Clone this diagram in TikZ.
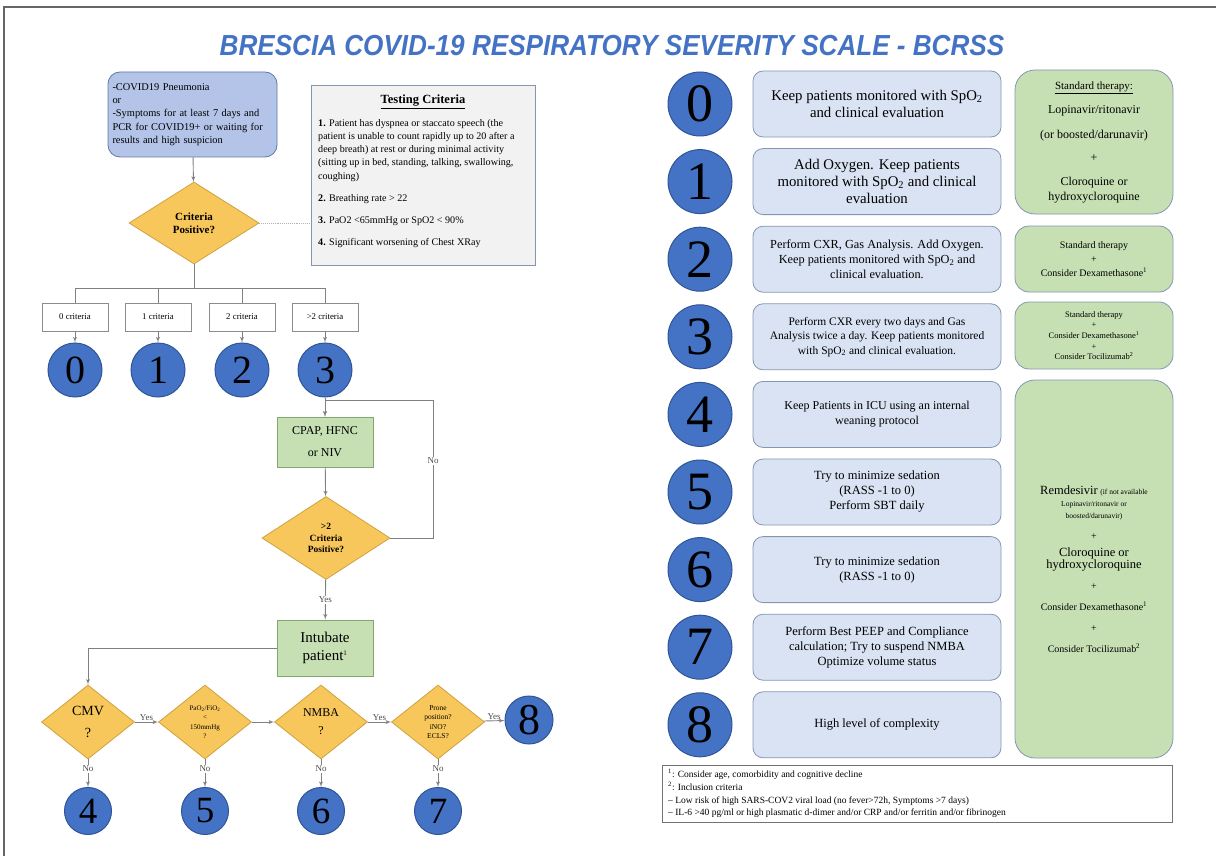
\documentclass[tikz,border=0pt]{standalone}
\usepackage{fontspec}
\setmainfont{Liberation Serif}
\newfontfamily\titlefont[FakeStretch=0.9]{Liberation Sans}
\usepackage{tikz}
\usetikzlibrary{shapes.geometric}
\usetikzlibrary{arrows}

\definecolor{lvlblue}{HTML}{4472C4}
\definecolor{lvledge}{HTML}{2F5597}
\definecolor{startfill}{HTML}{B4C4E8}
\definecolor{startedge}{HTML}{5F78AA}
\definecolor{gold}{HTML}{F8C75C}
\definecolor{goldedge}{HTML}{CFA23E}
\definecolor{stepfill}{HTML}{C6E0B4}
\definecolor{stepedge}{HTML}{82A872}
\definecolor{descfill}{HTML}{DAE3F3}
\definecolor{descedge}{HTML}{8497B0}
\definecolor{testfill}{HTML}{F2F2F2}
\definecolor{linegray}{HTML}{808080}
\definecolor{titleblue}{HTML}{4472C4}

\newcommand{\fs}[2]{\fontsize{#1}{#2}\selectfont}

\begin{document}
\begin{tikzpicture}[x=1pt,y=-1pt]
\tikzset{line/.style = {draw=linegray, line width=0.9pt}}
\tikzset{edge/.style = {line, ->, > = latex'}}
\tikzset{lbl/.style = {font=\fs{9}{10}, text=black!70, inner sep=1pt}}
\tikzset{lvl/.style = {shape=circle, draw=lvledge, fill=lvlblue, line width=1pt, inner sep=0pt}}
\tikzset{lvltop/.style = {lvl, minimum size=54pt, font=\fs{40}{40}}}
\tikzset{lvlbot/.style = {lvl, minimum size=47pt, font=\fs{37}{37}}}
\tikzset{lvlbig/.style = {lvl, minimum size=64pt, font=\fs{54}{54}}}
\tikzset{decision/.style = {shape=diamond, draw=goldedge, fill=gold, line width=0.8pt, aspect=1.6, inner sep=0pt, align=center}}
\tikzset{critbox/.style = {draw=black!45, fill=white, minimum width=66pt, minimum height=28pt, inner sep=0pt, font=\fs{8.8}{10}}}
\tikzset{stepbox/.style = {draw=stepedge, fill=stepfill, line width=0.8pt, minimum width=96pt, align=center}}
\tikzset{descbox/.style = {draw=descedge, fill=descfill, line width=0.8pt, rounded corners=10pt, minimum width=248pt, minimum height=66pt, align=center}}
\tikzset{therapy/.style = {draw=descedge, fill=stepfill, line width=0.8pt, rounded corners=20pt, minimum width=158pt, align=center}}
\useasboundingbox (0,0) rectangle (1216,856);
\draw[black!60, line width=1.2pt] (4,856) -- (4,7) -- (1216,7);
\node[font=\titlefont\bfseries\itshape\fs{29}{32}, text=titleblue] (title) at (612,46) {BRESCIA COVID-19 RESPIRATORY SEVERITY SCALE - BCRSS};

% left: triage flow
\node[draw=startedge, fill=startfill, line width=0.8pt, rounded corners=12pt, minimum width=169pt, minimum height=85pt, text width=160pt, align=left, font=\fs{10.4}{13.3}] (start) at (192.5,114.5) {-COVID19 Pneumonia\\or\\-Symptoms for at least 7 days and\\PCR for COVID19+ or waiting for\\results and high suspicion};
\node[draw=descedge, fill=testfill, line width=0.8pt, minimum width=224pt, minimum height=180pt] (tc) at (423,175) {};
\node[font=\bfseries\fs{12.5}{14}] (tctitle) at (423,102) {\underline{Testing Criteria}};
\node[anchor=north west, align=left, inner sep=0pt, font=\fs{10.1}{13.2}] (tcitems) at (318,119) {\textbf{1.} Patient has dyspnea or staccato speech (the\\patient is unable to count rapidly up to 20 after a\\deep breath) at rest or during minimal activity\\(sitting up in bed, standing, talking, swallowing,\\coughing)\\[9pt]\textbf{2.} Breathing rate > 22\\[9pt]\textbf{3.} PaO2 <65mmHg or SpO2 < 90\%\\[9pt]\textbf{4.} Significant worsening of Chest XRay};
\node[decision, minimum width=130pt, minimum height=82pt, font=\bfseries\fs{11}{13}] (crit1) at (194,223) {Criteria\\Positive?};
\draw[edge] (start) -- (crit1);
\draw[line, densely dotted, draw=black!30] (crit1.east) -- (crit1.east -| tc.west);

\node[critbox] (c0) at (75,317) {0 criteria};
\node[critbox] (c1) at (158,317) {1 criteria};
\node[critbox] (c2) at (242,317) {2 criteria};
\node[critbox] (c3) at (325,317) {>2 criteria};
\draw[line] (crit1.south) -- (194,288) coordinate (split);
\draw[line] (split -| c0) -- (split -| c3);
\foreach \i in {0,...,3} {
  \draw[line] (split -| c\i) -- (c\i.north);
  \node[lvltop] (l\i) at (c\i |- 0,370) {\i};
  \draw[edge] (c\i) -- (l\i);
}

\node[stepbox, minimum height=50pt, font=\fs{12}{14}] (cpap) at (325,442) {CPAP, HFNC\\[8pt]or NIV};
\node[decision, minimum width=128pt, minimum height=83pt, font=\bfseries\fs{9.5}{11.5}] (crit2) at (326,538) {>2\\Criteria\\Positive?};
\node[stepbox, minimum height=56pt, font=\fs{15}{18}] (intub) at (325,648) {Intubate\\patient\textsuperscript{\fs{7}{7}1}};
\coordinate (loop) at (433,400);
\draw[edge] (l3) -- (cpap);
\draw[edge] (crit2.east) -| node[lbl, fill=white, pos=0.78] (nolbl) {No} (loop) -| (cpap.north);
\draw[edge] (cpap) -- (crit2);
\draw[edge] (crit2) -- node[lbl, fill=white] (yeslbl) {Yes} (intub);

% left: ventilation chain
\node[decision, minimum width=93pt, minimum height=74pt, font=\fs{14}{16}] (cmv) at (88,722) {CMV\\[6pt]?};
\node[decision, minimum width=93pt, minimum height=74pt, font=\fs{7}{9.5}] (pao) at (205,722) {PaO\textsubscript{2}/FiO\textsubscript{2}\\<\\150mmHg\\?};
\node[decision, minimum width=93pt, minimum height=74pt, font=\fs{12}{14}] (nmba) at (321,722) {NMBA\\[4pt]?};
\node[decision, minimum width=93pt, minimum height=74pt, font=\fs{7.5}{9.5}] (prone) at (438,722) {Prone\\position?\\iNO?\\ECLS?};
\node[lvlbot] (l4) at (88,811) {4};
\node[lvlbot] (l5) at (205,811) {5};
\node[lvlbot] (l6) at (321,811) {6};
\node[lvlbot] (l7) at (438,811) {7};
\node[lvlbot, minimum size=48pt, font=\fs{44}{44}] (l8) at (529,720) {8};
\draw[edge] (intub.west) -| (cmv.north);
\draw[edge] (cmv) -- (pao) node[lbl, midway, above] {Yes};
\draw[edge] (pao) -- (nmba);
\draw[edge] (nmba) -- (prone) node[lbl, midway, above] {Yes};
\draw[edge] (prone) -- (l8) node[lbl, midway, above] {Yes};
\draw[edge] (cmv) -- node[lbl, fill=white, pos=0.35] {No} (l4);
\draw[edge] (pao) -- node[lbl, fill=white, pos=0.35] {No} (l5);
\draw[edge] (nmba) -- node[lbl, fill=white, pos=0.35] {No} (l6);
\draw[edge] (prone) -- node[lbl, fill=white, pos=0.35] {No} (l7);

% right: scale levels
\foreach \i in {0,...,8}
  \node[lvlbig] (r\i) at (700,{104+77.6*\i}) {\i};
\node[descbox, font=\fs{14.8}{17}] (d0) at (877,104) {Keep patients monitored with SpO\textsubscript{2}\\and clinical evaluation};
\node[descbox, font=\fs{14.8}{17}] (d1) at (877,181.6) {Add Oxygen. Keep patients\\monitored with SpO\textsubscript{2} and clinical\\evaluation};
\node[descbox, font=\fs{12.3}{15}] (d2) at (877,259.2) {Perform CXR, Gas Analysis. Add Oxygen.\\Keep patients monitored with SpO\textsubscript{2} and\\clinical evaluation.};
\node[descbox, font=\fs{11.5}{14.5}] (d3) at (877,336.8) {Perform CXR every two days and Gas\\Analysis twice a day. Keep patients monitored\\with SpO\textsubscript{2} and clinical evaluation.};
\node[descbox, font=\fs{12}{15}] (d4) at (877,414.4) {Keep Patients in ICU using an internal\\weaning protocol};
\node[descbox, font=\fs{12.5}{15}] (d5) at (877,492) {Try to minimize sedation\\(RASS -1 to 0)\\Perform SBT daily};
\node[descbox, font=\fs{12.5}{15}] (d6) at (877,569.6) {Try to minimize sedation\\(RASS -1 to 0)};
\node[descbox, font=\fs{12.5}{15}] (d7) at (877,647.2) {Perform Best PEEP and Compliance\\calculation; Try to suspend NMBA\\Optimize volume status};
\node[descbox, font=\fs{12.5}{15}] (d8) at (877,724.8) {High level of complexity};

% right: therapy
\node[therapy, minimum height=144pt, font=\fs{12}{15}] (tA) at (1094,142) {{\fs{11}{14}\underline{Standard therapy:}}\\[9pt]Lopinavir/ritonavir\\[10pt](or boosted/darunavir)\\[8pt]+\\[9pt]Cloroquine or\\hydroxycloroquine};
\node[therapy, rounded corners=14pt, minimum height=66pt, font=\fs{10}{14}] (tB) at (1094,259) {Standard therapy\\+\\Consider Dexamethasone\textsuperscript{1}};
\node[therapy, rounded corners=14pt, minimum height=67pt, font=\fs{8.5}{10.7}] (tC) at (1094,335.5) {Standard therapy\\+\\Consider Dexamethasone\textsuperscript{1}\\+\\Consider Tocilizumab\textsuperscript{2}};
\node[therapy, minimum height=378pt, font=\fs{10}{12}] (tD) at (1094,569) {{\fs{12.5}{13}Remdesivir} {\fs{7.5}{9}(if not available}\\{\fs{7.5}{9}Lopinavir/ritonavir or}\\{\fs{7.5}{9}boosted/darunavir)}\\[9pt]+\\[5pt]{\fs{12.5}{15}Cloroquine or}\\{\fs{12.5}{15}hydroxycloroquine}\\[9pt]+\\[9pt]Consider Dexamethasone\textsuperscript{1}\\[9pt]+\\[9pt]Consider Tocilizumab\textsuperscript{2}};

% notes
\node[draw=black!55, fill=white, line width=0.8pt, minimum width=510pt, minimum height=57pt] (notes) at (917,793.5) {};
\node[anchor=north west, align=left, inner sep=0pt, font=\fs{9.5}{12.8}] (notetext) at (668,769) {\textsuperscript{1}: Consider age, comorbidity and cognitive decline\\\textsuperscript{2}: Inclusion criteria\\-- Low risk of high SARS-COV2 viral load (no fever>72h, Symptoms >7 days)\\-- IL-6 >40 pg/ml or high plasmatic d-dimer and/or CRP and/or ferritin and/or fibrinogen};
\end{tikzpicture}
\end{document}
